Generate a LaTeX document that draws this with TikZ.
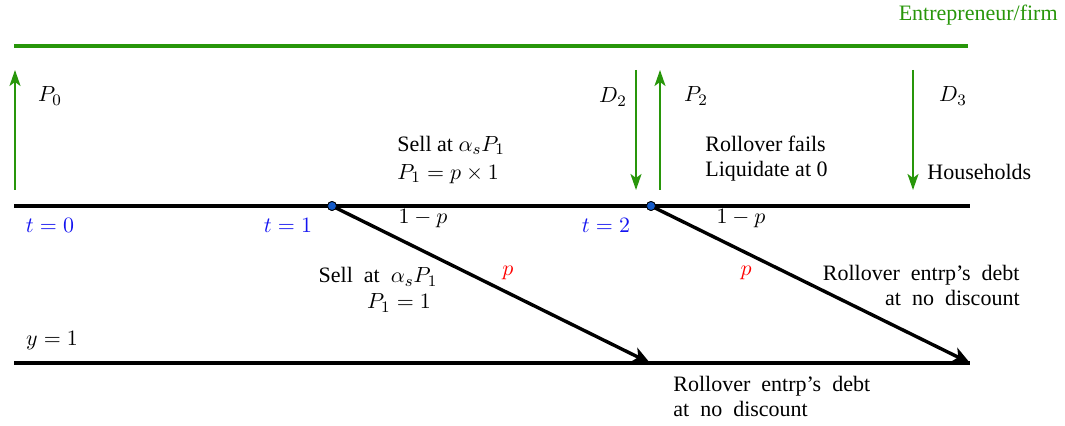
\documentclass[tikz,border=0pt]{standalone}
\usepackage{fontspec}
\setmainfont{Liberation Serif}
\usetikzlibrary{arrows.meta}
\definecolor{fgreen}{RGB}{40,150,10}
\definecolor{tblue}{RGB}{20,20,240}
\definecolor{dotblue}{RGB}{20,90,200}
\tikzset{
  timeline/.style={line width=1.7pt,black},
  branch/.style={line width=1.7pt,black,-{Stealth[length=9pt,width=8pt,inset=2.5pt]}},
  flow/.style={line width=1.1pt,fgreen,-{Stealth[length=8pt,width=5.5pt,inset=2pt]}},
  firmline/.style={line width=2pt,fgreen},
  tlab/.style={text=tblue,inner sep=0pt},
  plab/.style={inner sep=0pt},
  dot/.style={circle,fill=dotblue,draw=black,line width=0.4pt,inner sep=0pt,minimum size=4.5pt},
  txt/.style={inner sep=0pt,align=left},
}
\begin{document}
\begin{tikzpicture}[x=0.5pt,y=-0.5pt,font=\fontsize{11}{12.5}\selectfont]
\useasboundingbox (0,0) rectangle (1065,426);
% firm line
\coordinate (fl) at (14,46);
\coordinate (fr) at (968,46);
\draw[firmline] (fl) -- (fr);
\node[text=fgreen,anchor=east,inner sep=0pt] (firm) at (1058,15) {Entrepreneur/firm};
% timelines
\coordinate (t0) at (14,206);
\coordinate (tend) at (970,206);
\draw[timeline] (t0) -- (tend);
\coordinate (b0) at (14,363);
\coordinate (bend) at (970,363);
\draw[timeline] (b0) -- (bend);
% branch points
\node[dot] (n1) at (332,206) {};
\node[dot] (n2) at (651,206) {};
\coordinate (e1) at (650,363);
\coordinate (e2) at (970,363);
\draw[branch] (n1.center) -- (e1);
\draw[branch] (n2.center) -- (e2);
\node[dot] at (332,206) {};
\node[dot] at (651,206) {};
% green flows
\coordinate (a0s) at (15,190); \coordinate (a0e) at (15,70);
\draw[flow] (a0s) -- (a0e);
\coordinate (d2s) at (636,70); \coordinate (d2e) at (636,190);
\draw[flow] (d2s) -- (d2e);
\coordinate (p2s) at (660,190); \coordinate (p2e) at (660,70);
\draw[flow] (p2s) -- (p2e);
\coordinate (d3s) at (913,70); \coordinate (d3e) at (913,190);
\draw[flow] (d3s) -- (d3e);
% labels
\node[plab] (P0) at (50,96) {$P_0$};
\node[plab] (D2) at (613,97) {$D_2$};
\node[plab] (P2) at (696,96) {$P_2$};
\node[plab] (D3) at (953,96) {$D_3$};
\node[txt,anchor=west] (hh) at (927,172) {Households};
\node[tlab] (lt0) at (50,225) {$t=0$};
\node[tlab] (lt1) at (288,225) {$t=1$};
\node[tlab] (lt2) at (606,225) {$t=2$};
\node[plab] (y1) at (52,341) {$y=1$};
\node[plab] (q1) at (423,219) {$1-p$};
\node[plab] (q2) at (741,219) {$1-p$};
\node[plab,text=red] (r1) at (508,273) {$p$};
\node[plab,text=red] (r2) at (746,273) {$p$};
\node[txt,anchor=west] (s1) at (397,160) {Sell at $\alpha_s P_1$\\[1.5pt]$P_1=p\times 1$};
\node[txt] (s2) at (378,277) {Sell\ \ at\ \ $\alpha_s P_1$};
\node[txt] (s2b) at (399,303) {$P_1=1$};
\node[txt,anchor=west] (rf) at (705,159) {Rollover fails\\Liquidate at 0};
\node[txt,anchor=east,align=right] (ro1) at (1020,285) {Rollover\ \ entrp's\ \ debt\\at\ \ no\ \ discount};
\node[txt,anchor=west] (ro2) at (673,396) {Rollover\ \ entrp's\ \ debt\\at\ \ no\ \ discount};
\end{tikzpicture}
\end{document}
